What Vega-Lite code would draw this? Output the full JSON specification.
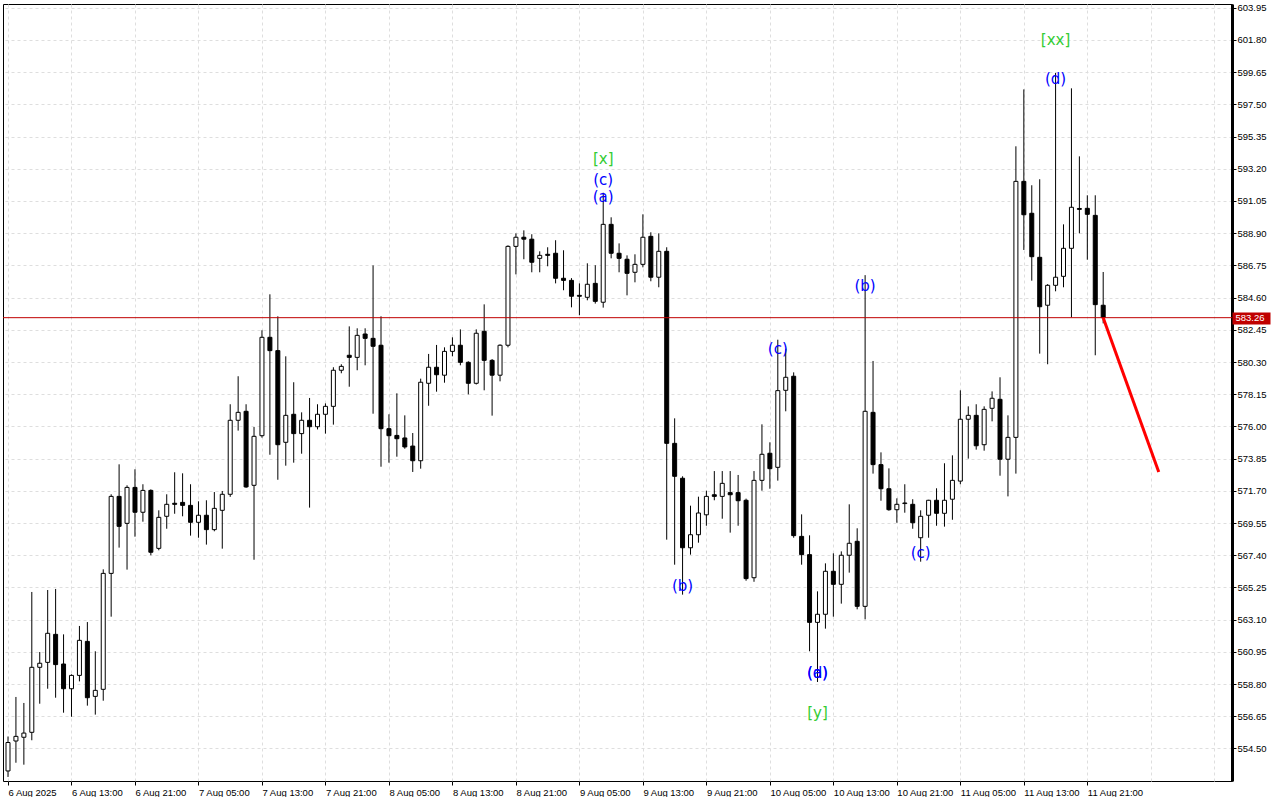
{
  "$schema": "https://vega.github.io/schema/vega-lite/v6.json",
  "width": 1229,
  "height": 777,
  "padding": {"left": 2, "top": 2, "right": 0, "bottom": 0},
  "background": "white",
  "config": {
    "view": {"stroke": "black", "strokeWidth": 1},
    "axis": {"labelFont": "Liberation Sans", "labelFontSize": 9.5, "labelColor": "black"}
  },
  "datasets": {
    "bars": [
      {"t":"2025-08-06T05:00:00Z","o":553.0,"h":555.3,"l":552.6,"c":554.9},
      {"t":"2025-08-06T06:00:00Z","o":555.0,"h":557.94,"l":553.55,"c":555.31},
      {"t":"2025-08-06T07:00:00Z","o":555.25,"h":557.54,"l":553.42,"c":555.53},
      {"t":"2025-08-06T08:00:00Z","o":555.58,"h":564.95,"l":555.05,"c":559.92},
      {"t":"2025-08-06T09:00:00Z","o":559.92,"h":560.94,"l":557.49,"c":560.19},
      {"t":"2025-08-06T10:00:00Z","o":560.25,"h":565.08,"l":558.49,"c":562.19},
      {"t":"2025-08-06T11:00:00Z","o":562.12,"h":565.15,"l":557.89,"c":560.10},
      {"t":"2025-08-06T12:00:00Z","o":560.14,"h":562.12,"l":556.89,"c":558.49},
      {"t":"2025-08-06T13:00:00Z","o":558.49,"h":559.45,"l":556.62,"c":559.38},
      {"t":"2025-08-06T14:00:00Z","o":559.38,"h":562.68,"l":558.98,"c":561.72},
      {"t":"2025-08-06T15:00:00Z","o":561.65,"h":562.94,"l":557.36,"c":557.89},
      {"t":"2025-08-06T16:00:00Z","o":557.98,"h":560.99,"l":556.76,"c":558.38},
      {"t":"2025-08-06T17:00:00Z","o":558.45,"h":566.46,"l":557.69,"c":566.19},
      {"t":"2025-08-06T18:00:00Z","o":566.19,"h":571.47,"l":563.30,"c":571.33},
      {"t":"2025-08-06T19:00:00Z","o":571.33,"h":573.47,"l":567.91,"c":569.33},
      {"t":"2025-08-06T20:00:00Z","o":569.53,"h":572.07,"l":566.44,"c":571.93},
      {"t":"2025-08-06T21:00:00Z","o":571.93,"h":573.14,"l":568.64,"c":570.27},
      {"t":"2025-08-06T22:00:00Z","o":570.27,"h":572.14,"l":569.64,"c":571.73},
      {"t":"2025-08-06T23:00:00Z","o":571.73,"h":571.80,"l":567.40,"c":567.60},
      {"t":"2025-08-07T00:00:00Z","o":567.86,"h":570.40,"l":567.73,"c":569.93},
      {"t":"2025-08-07T01:00:00Z","o":570.00,"h":571.47,"l":569.17,"c":570.80},
      {"t":"2025-08-07T02:00:00Z","o":570.87,"h":572.94,"l":570.17,"c":570.80},
      {"t":"2025-08-07T03:00:00Z","o":570.93,"h":572.87,"l":570.00,"c":570.73},
      {"t":"2025-08-07T04:00:00Z","o":570.73,"h":572.14,"l":568.71,"c":569.60},
      {"t":"2025-08-07T05:00:00Z","o":569.60,"h":571.00,"l":568.57,"c":570.07},
      {"t":"2025-08-07T06:00:00Z","o":570.07,"h":571.07,"l":568.11,"c":569.11},
      {"t":"2025-08-07T07:00:00Z","o":569.11,"h":571.62,"l":569.00,"c":570.53},
      {"t":"2025-08-07T08:00:00Z","o":570.40,"h":571.69,"l":567.84,"c":571.47},
      {"t":"2025-08-07T09:00:00Z","o":571.47,"h":577.48,"l":571.30,"c":576.41},
      {"t":"2025-08-07T10:00:00Z","o":576.41,"h":579.35,"l":575.72,"c":576.94},
      {"t":"2025-08-07T11:00:00Z","o":577.01,"h":577.48,"l":571.90,"c":571.96},
      {"t":"2025-08-07T12:00:00Z","o":572.07,"h":575.96,"l":567.10,"c":575.34},
      {"t":"2025-08-07T13:00:00Z","o":575.38,"h":582.42,"l":575.25,"c":581.95},
      {"t":"2025-08-07T14:00:00Z","o":581.95,"h":584.82,"l":574.11,"c":581.06},
      {"t":"2025-08-07T15:00:00Z","o":581.06,"h":583.35,"l":572.44,"c":574.78},
      {"t":"2025-08-07T16:00:00Z","o":574.94,"h":580.68,"l":573.38,"c":576.74},
      {"t":"2025-08-07T17:00:00Z","o":576.81,"h":578.95,"l":573.58,"c":575.52},
      {"t":"2025-08-07T18:00:00Z","o":575.52,"h":576.94,"l":574.18,"c":576.41},
      {"t":"2025-08-07T19:00:00Z","o":576.41,"h":577.90,"l":570.58,"c":575.98},
      {"t":"2025-08-07T20:00:00Z","o":575.98,"h":577.48,"l":575.80,"c":576.81},
      {"t":"2025-08-07T21:00:00Z","o":576.81,"h":577.54,"l":575.52,"c":577.34},
      {"t":"2025-08-07T22:00:00Z","o":577.34,"h":579.95,"l":576.12,"c":579.75},
      {"t":"2025-08-07T23:00:00Z","o":579.75,"h":580.15,"l":579.55,"c":580.01},
      {"t":"2025-08-08T00:00:00Z","o":580.75,"h":582.68,"l":578.65,"c":580.61},
      {"t":"2025-08-08T01:00:00Z","o":580.61,"h":582.55,"l":579.75,"c":582.08},
      {"t":"2025-08-08T02:00:00Z","o":582.17,"h":582.55,"l":580.08,"c":581.88},
      {"t":"2025-08-08T03:00:00Z","o":581.88,"h":586.75,"l":576.85,"c":581.35},
      {"t":"2025-08-08T04:00:00Z","o":581.42,"h":583.35,"l":573.31,"c":575.85},
      {"t":"2025-08-08T05:00:00Z","o":575.85,"h":576.81,"l":573.58,"c":575.38},
      {"t":"2025-08-08T06:00:00Z","o":575.40,"h":578.21,"l":573.98,"c":575.18},
      {"t":"2025-08-08T07:00:00Z","o":575.23,"h":576.74,"l":574.51,"c":574.63},
      {"t":"2025-08-08T08:00:00Z","o":574.69,"h":575.56,"l":572.96,"c":573.71},
      {"t":"2025-08-08T09:00:00Z","o":573.71,"h":579.19,"l":573.18,"c":578.95},
      {"t":"2025-08-08T10:00:00Z","o":578.88,"h":580.84,"l":577.38,"c":579.95},
      {"t":"2025-08-08T11:00:00Z","o":579.95,"h":581.44,"l":578.32,"c":579.45},
      {"t":"2025-08-08T12:00:00Z","o":579.42,"h":581.28,"l":578.92,"c":581.01},
      {"t":"2025-08-08T13:00:00Z","o":581.01,"h":581.95,"l":580.68,"c":581.42},
      {"t":"2025-08-08T14:00:00Z","o":581.42,"h":582.48,"l":580.08,"c":580.28},
      {"t":"2025-08-08T15:00:00Z","o":580.28,"h":580.35,"l":578.14,"c":578.88},
      {"t":"2025-08-08T16:00:00Z","o":578.88,"h":582.48,"l":578.80,"c":582.22},
      {"t":"2025-08-08T17:00:00Z","o":582.35,"h":584.15,"l":578.41,"c":580.41},
      {"t":"2025-08-08T18:00:00Z","o":580.41,"h":580.50,"l":576.72,"c":579.42},
      {"t":"2025-08-08T19:00:00Z","o":579.42,"h":581.48,"l":579.01,"c":581.42},
      {"t":"2025-08-08T20:00:00Z","o":581.42,"h":588.09,"l":581.28,"c":588.02},
      {"t":"2025-08-08T21:00:00Z","o":588.02,"h":588.89,"l":586.15,"c":588.63},
      {"t":"2025-08-08T22:00:00Z","o":588.63,"h":589.09,"l":587.16,"c":588.50},
      {"t":"2025-08-08T23:00:00Z","o":588.50,"h":588.83,"l":586.29,"c":586.96},
      {"t":"2025-08-09T00:00:00Z","o":587.22,"h":587.69,"l":586.29,"c":587.42},
      {"t":"2025-08-09T01:00:00Z","o":587.49,"h":587.96,"l":586.69,"c":587.42},
      {"t":"2025-08-09T02:00:00Z","o":587.56,"h":588.43,"l":585.55,"c":585.89},
      {"t":"2025-08-09T03:00:00Z","o":585.89,"h":587.76,"l":585.09,"c":585.75},
      {"t":"2025-08-09T04:00:00Z","o":585.75,"h":585.90,"l":583.95,"c":584.69},
      {"t":"2025-08-09T05:00:00Z","o":584.75,"h":585.55,"l":583.42,"c":584.69},
      {"t":"2025-08-09T06:00:00Z","o":584.62,"h":586.89,"l":584.42,"c":585.49},
      {"t":"2025-08-09T07:00:00Z","o":585.55,"h":586.76,"l":584.20,"c":584.35},
      {"t":"2025-08-09T08:00:00Z","o":584.29,"h":591.60,"l":583.93,"c":589.49},
      {"t":"2025-08-09T09:00:00Z","o":589.49,"h":589.96,"l":587.22,"c":587.56},
      {"t":"2025-08-09T10:00:00Z","o":587.56,"h":588.22,"l":586.29,"c":587.22},
      {"t":"2025-08-09T11:00:00Z","o":587.16,"h":587.42,"l":584.75,"c":586.22},
      {"t":"2025-08-09T12:00:00Z","o":586.29,"h":587.49,"l":585.62,"c":586.82},
      {"t":"2025-08-09T13:00:00Z","o":586.82,"h":590.16,"l":586.62,"c":588.63},
      {"t":"2025-08-09T14:00:00Z","o":588.69,"h":588.96,"l":585.69,"c":585.96},
      {"t":"2025-08-09T15:00:00Z","o":585.96,"h":588.89,"l":585.29,"c":587.69},
      {"t":"2025-08-09T16:00:00Z","o":587.69,"h":587.96,"l":568.44,"c":574.87},
      {"t":"2025-08-09T17:00:00Z","o":574.87,"h":576.54,"l":566.77,"c":572.67},
      {"t":"2025-08-09T18:00:00Z","o":572.54,"h":572.67,"l":564.77,"c":567.90},
      {"t":"2025-08-09T19:00:00Z","o":567.90,"h":570.71,"l":567.44,"c":568.77},
      {"t":"2025-08-09T20:00:00Z","o":568.77,"h":571.31,"l":568.24,"c":570.22},
      {"t":"2025-08-09T21:00:00Z","o":570.10,"h":571.71,"l":569.37,"c":571.33},
      {"t":"2025-08-09T22:00:00Z","o":571.44,"h":573.02,"l":571.07,"c":571.33},
      {"t":"2025-08-09T23:00:00Z","o":571.33,"h":573.02,"l":569.84,"c":572.20},
      {"t":"2025-08-10T00:00:00Z","o":571.58,"h":573.02,"l":568.91,"c":571.44},
      {"t":"2025-08-10T01:00:00Z","o":571.58,"h":572.76,"l":569.37,"c":571.04},
      {"t":"2025-08-10T02:00:00Z","o":571.07,"h":571.18,"l":565.70,"c":565.84},
      {"t":"2025-08-10T03:00:00Z","o":565.90,"h":573.02,"l":565.63,"c":572.40},
      {"t":"2025-08-10T04:00:00Z","o":572.40,"h":576.14,"l":571.71,"c":574.14},
      {"t":"2025-08-10T05:00:00Z","o":574.21,"h":574.94,"l":571.84,"c":573.18},
      {"t":"2025-08-10T06:00:00Z","o":573.27,"h":581.79,"l":572.38,"c":578.39},
      {"t":"2025-08-10T07:00:00Z","o":578.41,"h":581.19,"l":577.01,"c":579.28},
      {"t":"2025-08-10T08:00:00Z","o":579.35,"h":579.61,"l":568.57,"c":568.71},
      {"t":"2025-08-10T09:00:00Z","o":568.66,"h":570.13,"l":566.77,"c":567.44},
      {"t":"2025-08-10T10:00:00Z","o":567.44,"h":568.73,"l":560.99,"c":562.92},
      {"t":"2025-08-10T11:00:00Z","o":562.92,"h":564.99,"l":558.94,"c":563.46},
      {"t":"2025-08-10T12:00:00Z","o":563.46,"h":566.86,"l":562.50,"c":566.33},
      {"t":"2025-08-10T13:00:00Z","o":566.33,"h":567.53,"l":563.30,"c":565.46},
      {"t":"2025-08-10T14:00:00Z","o":565.46,"h":567.66,"l":564.17,"c":567.40},
      {"t":"2025-08-10T15:00:00Z","o":567.40,"h":570.80,"l":566.24,"c":568.20},
      {"t":"2025-08-10T16:00:00Z","o":568.33,"h":569.20,"l":563.79,"c":563.99},
      {"t":"2025-08-10T17:00:00Z","o":563.99,"h":586.10,"l":563.12,"c":577.01},
      {"t":"2025-08-10T18:00:00Z","o":576.94,"h":580.37,"l":572.85,"c":573.45},
      {"t":"2025-08-10T19:00:00Z","o":573.45,"h":574.27,"l":571.04,"c":571.84},
      {"t":"2025-08-10T20:00:00Z","o":571.84,"h":573.20,"l":570.37,"c":570.44},
      {"t":"2025-08-10T21:00:00Z","o":570.44,"h":571.20,"l":569.57,"c":570.80},
      {"t":"2025-08-10T22:00:00Z","o":570.85,"h":572.14,"l":570.24,"c":570.89},
      {"t":"2025-08-10T23:00:00Z","o":570.80,"h":571.14,"l":569.17,"c":569.57},
      {"t":"2025-08-11T00:00:00Z","o":568.57,"h":570.40,"l":566.97,"c":570.00},
      {"t":"2025-08-11T01:00:00Z","o":570.07,"h":571.10,"l":568.57,"c":571.07},
      {"t":"2025-08-11T02:00:00Z","o":571.07,"h":571.87,"l":569.37,"c":570.20},
      {"t":"2025-08-11T03:00:00Z","o":570.20,"h":573.54,"l":569.31,"c":571.07},
      {"t":"2025-08-11T04:00:00Z","o":571.14,"h":574.07,"l":569.77,"c":572.40},
      {"t":"2025-08-11T05:00:00Z","o":572.35,"h":578.41,"l":572.14,"c":576.48},
      {"t":"2025-08-11T06:00:00Z","o":576.48,"h":577.34,"l":573.85,"c":576.74},
      {"t":"2025-08-11T07:00:00Z","o":576.74,"h":577.48,"l":574.45,"c":574.71},
      {"t":"2025-08-11T08:00:00Z","o":574.78,"h":577.34,"l":574.38,"c":577.14},
      {"t":"2025-08-11T09:00:00Z","o":577.21,"h":578.34,"l":576.34,"c":577.88},
      {"t":"2025-08-11T10:00:00Z","o":577.81,"h":579.28,"l":572.71,"c":573.81},
      {"t":"2025-08-11T11:00:00Z","o":573.81,"h":576.74,"l":571.33,"c":575.27},
      {"t":"2025-08-11T12:00:00Z","o":575.27,"h":594.70,"l":572.85,"c":592.36},
      {"t":"2025-08-11T13:00:00Z","o":592.36,"h":598.50,"l":587.78,"c":590.13},
      {"t":"2025-08-11T14:00:00Z","o":590.23,"h":592.10,"l":585.73,"c":587.33},
      {"t":"2025-08-11T15:00:00Z","o":587.29,"h":592.50,"l":580.86,"c":583.99},
      {"t":"2025-08-11T16:00:00Z","o":584.09,"h":585.50,"l":580.15,"c":585.42},
      {"t":"2025-08-11T17:00:00Z","o":585.42,"h":599.60,"l":585.02,"c":585.96},
      {"t":"2025-08-11T18:00:00Z","o":586.02,"h":589.49,"l":585.29,"c":587.89},
      {"t":"2025-08-11T19:00:00Z","o":587.89,"h":598.57,"l":583.28,"c":590.63},
      {"t":"2025-08-11T20:00:00Z","o":590.55,"h":594.03,"l":588.89,"c":590.49},
      {"t":"2025-08-11T21:00:00Z","o":590.56,"h":591.43,"l":587.13,"c":590.16},
      {"t":"2025-08-11T22:00:00Z","o":590.09,"h":591.43,"l":580.75,"c":584.13},
      {"t":"2025-08-11T23:00:00Z","o":584.09,"h":586.31,"l":582.88,"c":583.26}
    ],
    "forecast": [
      {"t":"2025-08-11T23:00:00Z","p":583.26},
      {"t":"2025-08-12T06:00:00Z","p":572.96}
    ],
    "bid": [{"p":583.26}],
    "waves": [
      {"t":"2025-08-09T08:00:00Z","p":593.85,"s":"[x]","k":"major"},
      {"t":"2025-08-09T08:00:00Z","p":592.45,"s":"(c)","k":"minor"},
      {"t":"2025-08-09T08:00:00Z","p":591.30,"s":"(a)","k":"minor"},
      {"t":"2025-08-09T18:00:00Z","p":565.38,"s":"(b)","k":"minor"},
      {"t":"2025-08-10T06:00:00Z","p":581.14,"s":"(c)","k":"minor"},
      {"t":"2025-08-10T11:00:00Z","p":559.51,"s":"(d)","k":"minor"},
      {"t":"2025-08-10T11:00:00Z","p":559.51,"s":"(a)","k":"minor"},
      {"t":"2025-08-10T11:00:00Z","p":556.90,"s":"[y]","k":"major"},
      {"t":"2025-08-10T17:00:00Z","p":585.37,"s":"(b)","k":"minor"},
      {"t":"2025-08-11T00:00:00Z","p":567.58,"s":"(c)","k":"minor"},
      {"t":"2025-08-11T17:00:00Z","p":599.22,"s":"(d)","k":"minor"},
      {"t":"2025-08-11T17:00:00Z","p":601.80,"s":"[xx]","k":"major"}
    ]
  },
  "layer": [
    {
      "data": {"name": "bars"},
      "mark": {"type": "rule", "color": "black", "strokeWidth": 1},
      "encoding": {
        "x": {
          "field": "t", "type": "temporal",
          "scale": {"type": "utc", "domain": [{"year":2025,"month":8,"date":6,"hours":5,"utc":true},{"year":2025,"month":8,"date":12,"hours":14,"minutes":36,"utc":true}]},
          "axis": {
            "orient": "bottom", "title": null,
            "values": [1754456400000,1754470800000,1754485200000,1754499600000,1754514000000,1754528400000,1754542800000,1754557200000,1754571600000,1754586000000,1754600400000,1754614800000,1754629200000,1754643600000,1754658000000,1754672400000,1754686800000,1754701200000,1754715600000,1754730000000,1754744400000,1754758800000,1754773200000,1754787600000,1754802000000,1754816400000,1754830800000,1754845200000,1754859600000,1754874000000,1754888400000,1754902800000,1754917200000,1754931600000,1754946000000,1754960400000,1754974800000,1754989200000,1755003600000],
            "labelExpr": "(utchours(datum.value) % 8 != 5 || +datum.value > 1754946000000) ? '' : (+datum.value == 1754456400000 ? utcFormat(datum.value, '%-d %b %Y') : utcFormat(datum.value, '%-d %b %H:%M'))",
            "labelAlign": "left", "labelBaseline": "top", "labelPadding": 2,
            "labelOverlap": false, "labelFlush": false, "labelBound": false,
            "tickSize": 4,
            "tickColor": {"condition": {"test": "utchours(datum.value) % 8 == 5 && +datum.value <= 1754946000000", "value": "black"}, "value": "transparent"},
            "grid": true, "gridColor": "#dedede", "gridDash": [3, 3],
            "domain": false
          }
        },
        "y": {
          "field": "l", "type": "quantitative",
          "scale": {"domain": [552.33, 604.2], "zero": false, "nice": false},
          "axis": {
            "orient": "right", "title": null,
            "values": [554.5,556.65,558.8,560.95,563.1,565.25,567.4,569.55,571.7,573.85,576,578.15,580.3,582.45,584.6,586.75,588.9,591.05,593.2,595.35,597.5,599.65,601.8,603.95],
            "format": ".2f", "tickSize": 4, "tickColor": "black",
            "labelPadding": 1, "labelAlign": "left", "labelBaseline": "middle",
            "labelOverlap": false, "labelFlush": false, "labelBound": false,
            "grid": true, "gridColor": "#dedede", "gridDash": [3, 3],
            "domain": true, "domainColor": "black", "domainWidth": 3
          }
        },
        "y2": {"field": "h"}
      }
    },
    {
      "data": {"name": "bars"},
      "mark": {"type": "bar", "width": 4, "stroke": "black", "strokeWidth": 1},
      "encoding": {
        "x": {"field": "t", "type": "temporal", "scale": {"type": "utc", "domain": [{"year":2025,"month":8,"date":6,"hours":5,"utc":true},{"year":2025,"month":8,"date":12,"hours":14,"minutes":36,"utc":true}]}},
        "y": {"field": "o", "type": "quantitative", "scale": {"domain": [552.33, 604.2], "zero": false, "nice": false}, "axis": null},
        "y2": {"field": "c"},
        "fill": {"condition": {"test": "datum.c >= datum.o", "value": "white"}, "value": "black"}
      }
    },
    {
      "data": {"name": "bid"},
      "mark": {"type": "rule", "color": "#C00000", "strokeWidth": 1},
      "encoding": {
        "y": {
          "field": "p", "type": "quantitative",
          "scale": {"domain": [552.33, 604.2], "zero": false, "nice": false},
          "axis": {
            "orient": "right", "title": null, "values": [583.26], "format": ".2f",
            "grid": false, "domain": false,
            "tickColor": "#C00000", "tickSize": 38, "tickWidth": 12,
            "labelColor": "white", "labelPadding": -35, "labelAlign": "left", "labelBaseline": "middle",
            "labelFontSize": 9.5
          }
        }
      }
    },
    {
      "data": {"name": "forecast"},
      "mark": {"type": "line", "color": "#FF0000", "strokeWidth": 3},
      "encoding": {
        "x": {"field": "t", "type": "temporal", "scale": {"type": "utc", "domain": [{"year":2025,"month":8,"date":6,"hours":5,"utc":true},{"year":2025,"month":8,"date":12,"hours":14,"minutes":36,"utc":true}]}},
        "y": {"field": "p", "type": "quantitative", "scale": {"domain": [552.33, 604.2], "zero": false, "nice": false}, "axis": null}
      }
    },
    {
      "data": {"name": "waves"},
      "mark": {"type": "text", "font": "DejaVu Sans", "fontSize": 15, "align": "center", "baseline": "middle"},
      "encoding": {
        "x": {"field": "t", "type": "temporal", "scale": {"type": "utc", "domain": [{"year":2025,"month":8,"date":6,"hours":5,"utc":true},{"year":2025,"month":8,"date":12,"hours":14,"minutes":36,"utc":true}]}},
        "y": {"field": "p", "type": "quantitative", "scale": {"domain": [552.33, 604.2], "zero": false, "nice": false}, "axis": null},
        "text": {"field": "s"},
        "color": {"field": "k", "type": "nominal", "scale": {"domain": ["minor", "major"], "range": ["#0000FF", "#33CC33"]}, "legend": null}
      }
    }
  ],
  "resolve": {"axis": {"y": "independent"}}
}
